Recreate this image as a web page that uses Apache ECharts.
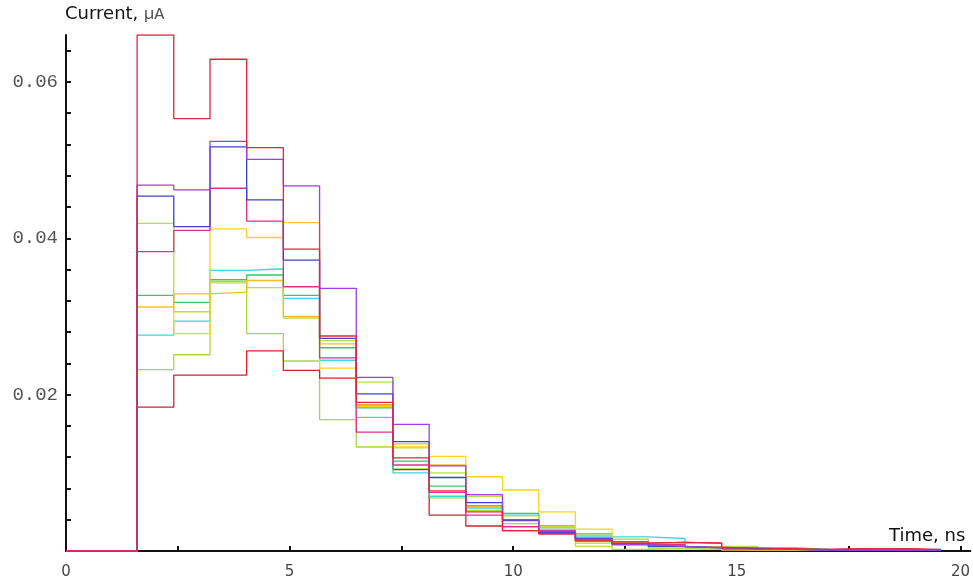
<!DOCTYPE html>
<html>
<head>
<meta charset="utf-8">
<script src="https://cdn.jsdelivr.net/npm/echarts@6/dist/echarts.min.js"></script>
<style>
  html, body { margin: 0; padding: 0; background: #fff; }
  #chart { width: 973px; height: 588px; }
</style>
</head>
<body>
<div id="chart"></div>
<script>
// bin edges (ns)
const edges = [0, 1.59, 2.41, 3.22, 4.04, 4.86, 5.67, 6.49, 7.31, 8.12, 8.94, 9.76, 10.57,
  11.39, 12.21, 13.02, 13.84, 14.66, 15.47, 16.29, 17.11, 17.92, 18.74, 19.56]

// current per bin (µA), one list per curve
const redHigh = [0, 0.0660, 0.0553, 0.0629, 0.0516, 0.0386, 0.0275, 0.0190, 0.0119, 0.0077, 0.0050, 0.0026, 0.0022, 0.0013, 0.0010, 0.0011, 0.0010, 0.0004, 0.0003, 0.0002, 0.0003, 0.0003, 0.0002]
const purple  = [0, 0.0468, 0.0462, 0.0524, 0.0501, 0.0467, 0.0336, 0.0222, 0.0162, 0.0109, 0.0072, 0.0040, 0.0025, 0.0015, 0.0008, 0.0006, 0.0004, 0.0002, 0.0002, 0.0001, 0.0001, 0.0001, 0.0001]
const blue    = [0, 0.0454, 0.0415, 0.0517, 0.0449, 0.0372, 0.0272, 0.0201, 0.0140, 0.0094, 0.0062, 0.0039, 0.0024, 0.0016, 0.0009, 0.0006, 0.0004, 0.0003, 0.0002, 0.0001, 0.0001, 0.0001, 0.0001]
const magenta = [0, 0.0383, 0.0410, 0.0464, 0.0422, 0.0338, 0.0247, 0.0152, 0.0110, 0.0075, 0.0046, 0.0031, 0.0026, 0.0016, 0.0012, 0.0008, 0.0005, 0.0003, 0.0002, 0.0001, 0.0001, 0.0001, 0.0001]
const yellowA = [0, 0.0312, 0.0278, 0.0412, 0.0401, 0.0420, 0.0234, 0.0185, 0.0133, 0.0121, 0.0095, 0.0078, 0.0050, 0.0028, 0.0012, 0.0008, 0.0005, 0.0003, 0.0002, 0.0001, 0.0001, 0.0001, 0.0001]
const yellowB = [0, 0.0312, 0.0329, 0.0331, 0.0346, 0.0300, 0.0265, 0.0187, 0.0137, 0.0110, 0.0057, 0.0040, 0.0030, 0.0020, 0.0010, 0.0005, 0.0004, 0.0001, 0.0001, 0.0001, 0.0001, 0.0001, 0.0001]
const limeA   = [0, 0.0419, 0.0306, 0.0343, 0.0337, 0.0298, 0.0269, 0.0216, 0.0132, 0.0100, 0.0070, 0.0045, 0.0031, 0.0006, 0.0015, 0.0003, 0.0002, 0.0006, 0.0002, 0.0001, 0.0001, 0.0001, 0.0001]
const limeB   = [0, 0.0232, 0.0251, 0.0345, 0.0278, 0.0243, 0.0168, 0.0133, 0.0105, 0.0068, 0.0052, 0.0035, 0.0025, 0.0010, 0.0002, 0.0003, 0.0002, 0.0001, 0.0001, 0.0001, 0.0001, 0.0001, 0.0001]
const green   = [0, 0.0327, 0.0318, 0.0347, 0.0353, 0.0327, 0.0260, 0.0183, 0.0115, 0.0083, 0.0058, 0.0048, 0.0032, 0.0022, 0.0012, 0.0008, 0.0005, 0.0003, 0.0004, 0.0002, 0.0001, 0.0001, 0.0002]
const cyan    = [0, 0.0276, 0.0294, 0.0359, 0.0361, 0.0323, 0.0244, 0.0171, 0.0100, 0.0070, 0.0055, 0.0046, 0.0028, 0.0018, 0.0018, 0.0016, 0.0004, 0.0002, 0.0001, 0.0001, 0.0001, 0.0001, 0.0001]
const redLow  = [0, 0.0184, 0.0225, 0.0225, 0.0256, 0.0231, 0.0221, 0.0187, 0.0104, 0.0046, 0.0032, 0.0026, 0.0022, 0.0013, 0.0010, 0.0011, 0.0010, 0.0002, 0.0001, 0.0002, 0.0003, 0.0003, 0.0001]

const curves = [
  { name: "limeB", values: limeB, color: "#a6dc3a" },
  { name: "redLow", values: redLow, color: "#d8202e" },
  { name: "cyan", values: cyan, color: "#38d8dc" },
  { name: "green", values: green, color: "#36c868" },
  { name: "limeA", values: limeA, color: "#b8e040" },
  { name: "yellowB", values: yellowB, color: "#f2bc30" },
  { name: "yellowA", values: yellowA, color: "#ffd21e" },
  { name: "magenta", values: magenta, color: "#e0308c" },
  { name: "blue", values: blue, color: "#3a44cc" },
  { name: "purple", values: purple, color: "#9c40e0" },
  { name: "redHigh", values: redHigh, color: "#e6243c" }
]

// step histogram: one point per left edge, plus the last right edge
function stepData(values) {
  const pts = values.map((v, i) => [edges[i], v])
  pts.push([edges[edges.length - 1], values[values.length - 1]])
  return pts
}

const chart = echarts.init(document.getElementById("chart"))

const axisBlack = { lineStyle: { color: "#111", width: 2 } }

chart.setOption({
  animation: false,
  grid: { left: 66, right: 0, top: 35, bottom: 37 },
  xAxis: {
    type: "value",
    min: 0,
    max: 20.22, // the axis line runs a little past 20
    interval: 2.5,
    name: "Time, ns",
    nameLocation: "end",
    nameGap: -5,
    nameTextStyle: {
      fontFamily: "DejaVu Sans",
      fontSize: 18,
      color: "#111",
      align: "right",
      verticalAlign: "bottom",
      padding: [0, 0, 6, 0]
    },
    axisLine: { show: true, onZero: false, ...axisBlack },
    axisTick: { show: true, inside: true, length: 5, lineStyle: { color: "#111", width: 2 } },
    splitLine: { show: false },
    axisLabel: {
      margin: 14,
      fontFamily: "DejaVu Sans",
      fontSize: 15,
      color: "#444",
      showMaxLabel: false,
      formatter: v => (Math.abs(v % 5) < 1e-9 ? String(v) : "")
    }
  },
  yAxis: {
    type: "value",
    min: 0,
    max: 0.066,
    interval: 0.004,
    name: "{a|Current, }{b|µA}",
    nameLocation: "end",
    nameGap: 12,
    nameTextStyle: {
      align: "left",
      padding: [0, 0, 0, -1],
      rich: {
        a: { fontFamily: "DejaVu Sans", fontSize: 18, color: "#111" },
        b: { fontFamily: "Liberation Mono", fontSize: 17, color: "#555" }
      }
    },
    axisLine: { show: true, ...axisBlack },
    axisTick: { show: true, inside: true, length: 5, lineStyle: { color: "#111", width: 2 } },
    splitLine: { show: false },
    axisLabel: {
      margin: 8,
      fontFamily: "Liberation Mono",
      fontSize: 19,
      color: "#555",
      showMaxLabel: false,
      formatter: v => {
        const k = v * 50
        return v > 0 && Math.abs(k - Math.round(k)) < 1e-6 ? v.toFixed(2) : ""
      }
    }
  },
  series: curves.map(c => ({
    name: c.name,
    type: "line",
    step: "end",
    showSymbol: false,
    symbol: "none",
    data: stepData(c.values),
    lineStyle: { color: c.color, width: 1.3 },
    itemStyle: { color: c.color }
  }))
})
</script>
</body>
</html>
